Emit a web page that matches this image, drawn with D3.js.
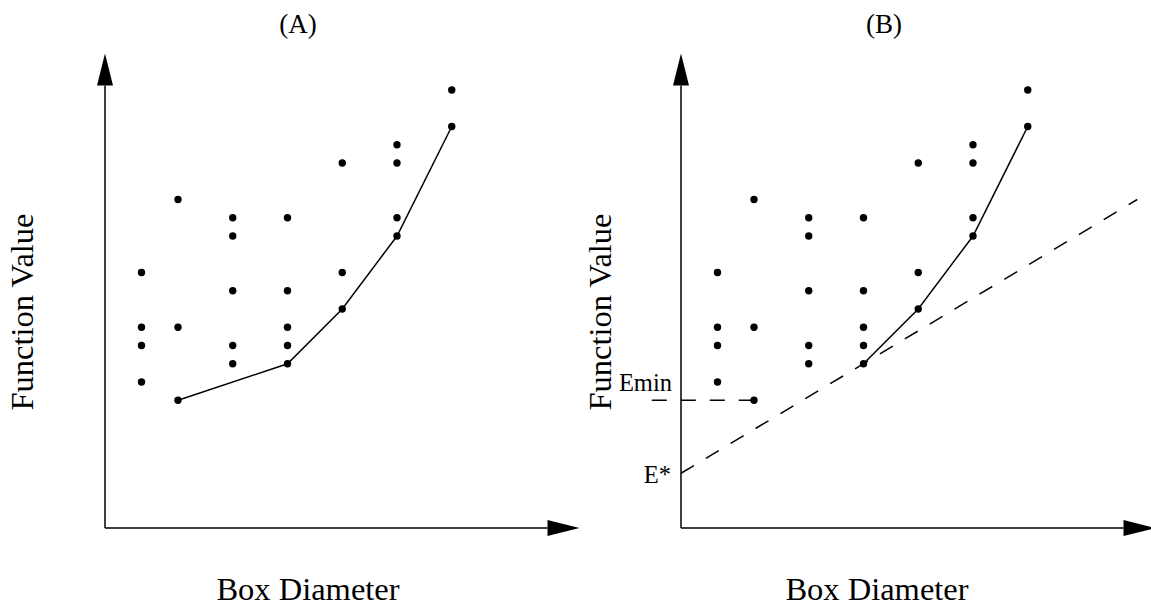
<!DOCTYPE html>
<html lang="en">
<head>
    <meta charset="UTF-8">
    <title>Box Diameter vs Function Value</title>
    <script src="https://cdn.jsdelivr.net/npm/d3@7"></script>
    <style>
        html, body {
            margin: 0;
            padding: 0;
            background-color: white;
        }
        svg text {
            font-family: "Liberation Serif", "Times New Roman", serif;
            fill: black;
        }
        .axis {
            stroke: black;
            stroke-width: 1.5;
        }
        .hull {
            fill: none;
            stroke: black;
            stroke-width: 1.5;
        }
        .dashed {
            fill: none;
            stroke: black;
            stroke-width: 1.5;
            stroke-dasharray: 15,14;
        }
    </style>
</head>
<body>

<svg id="svg" width="1151" height="606"></svg>

<script>
    // box diameters (x) and the function values found at each one (y)
    var diameters = [2, 4, 7, 10, 13, 16, 19];
    var funcValues = [
        [14, 11, 10, 8],
        [18, 11, 7],
        [17, 16, 13, 10, 9],
        [17, 13, 11, 10, 9],
        [20, 14, 12],
        [21, 20, 17, 16],
        [24, 22]
    ];

    // lower convex hull points
    var hullX = [4, 10, 13, 16, 19];
    var hullY = [7, 9, 12, 16, 22];

    // panel B extras
    var eStar = 3;          // intercept of the tangent line
    var tangentEnd = 25;    // x where the tangent line stops
    var eMin = 7;           // lowest value found
    var eMinX = 4;
    var eMinStart = -1.6;

    var panelTitles = ["(A)", "(B)"];
    var xLabel = "Box Diameter";
    var yLabel = "Function Value";

    var points = [];
    diameters.forEach(function(d, i) {
        funcValues[i].forEach(function(v) {
            points.push({x: d, y: v});
        });
    });

    var svg = d3.select("#svg");
    var unit = 18.25;
    var axisMax = 26;

    function drawPanel(opts) {
        var x = d3.scaleLinear().domain([0, axisMax]).range([opts.ox, opts.ox + axisMax * unit]);
        var y = d3.scaleLinear().domain([0, axisMax]).range([opts.oy, opts.oy - axisMax * unit]);
        var g = svg.append("g");

        // axes with arrow heads
        var headLen = 32, headW = 8;
        g.append("line").attr("class", "axis")
            .attr("x1", x(0)).attr("y1", y(0))
            .attr("x2", x(0)).attr("y2", y(axisMax) + headLen);
        g.append("line").attr("class", "axis")
            .attr("x1", x(0)).attr("y1", y(0))
            .attr("x2", x(axisMax) - headLen).attr("y2", y(0));
        g.append("path")
            .attr("d", "M" + x(0) + "," + y(axisMax) +
                " L" + (x(0) - headW) + "," + (y(axisMax) + headLen) +
                " L" + (x(0) + headW) + "," + (y(axisMax) + headLen) + " Z")
            .attr("fill", "black");
        g.append("path")
            .attr("d", "M" + x(axisMax) + "," + y(0) +
                " L" + (x(axisMax) - headLen) + "," + (y(0) - headW) +
                " L" + (x(axisMax) - headLen) + "," + (y(0) + headW) + " Z")
            .attr("fill", "black");

        if (opts.tangent) {
            g.append("line").attr("class", "dashed")
                .attr("x1", x(0)).attr("y1", y(eStar))
                .attr("x2", x(tangentEnd)).attr("y2", y(eStar + (hullY[1] - eStar) / hullX[1] * tangentEnd));
            g.append("line").attr("class", "dashed")
                .attr("x1", x(eMinStart)).attr("y1", y(eMin))
                .attr("x2", x(eMinX)).attr("y2", y(eMin));
            g.append("text")
                .attr("x", x(0) - 9).attr("y", y(eMin) - 9)
                .attr("text-anchor", "end")
                .attr("font-size", 24.5)
                .text("Emin");
            g.append("text")
                .attr("x", x(0) - 10).attr("y", y(eStar) + 10)
                .attr("text-anchor", "end")
                .attr("font-size", 24.5)
                .text("E*");
        }

        var hull = d3.range(opts.hullFrom, hullX.length).map(function(i) {
            return [hullX[i], hullY[i]];
        });
        g.append("path").attr("class", "hull")
            .attr("d", d3.line().x(function(d) { return x(d[0]); }).y(function(d) { return y(d[1]); })(hull));

        g.selectAll("circle")
            .data(points)
            .enter()
            .append("circle")
            .attr("cx", function(d) { return x(d.x); })
            .attr("cy", function(d) { return y(d.y); })
            .attr("r", 3.7)
            .attr("fill", "black");

        svg.append("text")
            .attr("x", opts.titleX).attr("y", 33)
            .attr("text-anchor", "middle")
            .attr("font-size", 27)
            .text(opts.title);
        svg.append("text")
            .attr("x", opts.xLabelX).attr("y", 600)
            .attr("text-anchor", "middle")
            .attr("font-size", 32.5)
            .text(xLabel);
        svg.append("text")
            .attr("transform", "translate(" + opts.yLabelX + ",312) rotate(-90)")
            .attr("text-anchor", "middle")
            .attr("font-size", 32.5)
            .text(yLabel);
    }

    drawPanel({ox: 105, oy: 528, hullFrom: 0, tangent: false,
        title: panelTitles[0], titleX: 298, xLabelX: 308, yLabelX: 33});
    drawPanel({ox: 681, oy: 528, hullFrom: 1, tangent: true,
        title: panelTitles[1], titleX: 884, xLabelX: 877, yLabelX: 611});
</script>
</body>
</html>
